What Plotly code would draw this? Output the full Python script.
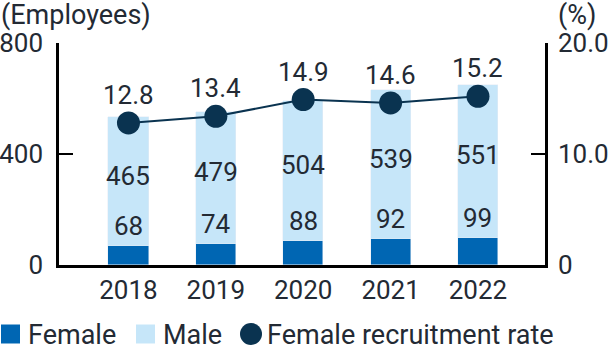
import plotly.graph_objects as go

# Headcount by year (employees) and female recruitment rate (%)
years = ["2018", "2019", "2020", "2021", "2022"]
female = [68, 74, 88, 92, 99]
male = [465, 479, 504, 539, 551]
female_rate = [12.8, 13.4, 14.9, 14.6, 15.2]

left_ticks = [0, 400, 800]
right_ticks = [0, 10, 20]
right_tick_text = ["0", "10.0", "20.0"]

# Style
FONT = "Roboto"
FS = 26
FS_WORDS = 27
TEXT = "#232a34"
C_FEMALE = "#0066b3"
C_MALE = "#c6e6f9"
C_RATE = "#0a3350"

W, H = 610, 346
ML, MR, MT, MB = 59, 65, 43, 81
PW, PH = W - ML - MR, H - MT - MB


def px_x(px):
    return (px - ML) / PW


def px_y(py):
    return (H - MB - py) / PH


fig = go.Figure()

fig.add_trace(go.Bar(x=years, y=female, name="Female", marker_color=C_FEMALE,
                     width=0.46, showlegend=False))
fig.add_trace(go.Bar(x=years, y=male, name="Male", marker_color=C_MALE,
                     width=0.46, showlegend=False))
fig.add_trace(go.Scatter(x=years, y=female_rate, name="Female recruitment rate",
                         yaxis="y2", mode="lines+markers",
                         line=dict(color=C_RATE, width=2),
                         marker=dict(color=C_RATE, size=23),
                         cliponaxis=False, showlegend=False))

# Value labels; category positions are given by index on the category axis
annotations = []
for i, (f, m, r) in enumerate(zip(female, male, female_rate)):
    annotations.append(dict(x=i, y=f, xref="x", yref="y", text=str(f),
                            showarrow=False, yanchor="middle", yshift=20))
    annotations.append(dict(x=i, y=f + m / 2, xref="x", yref="y", text=str(m),
                            showarrow=False, yanchor="middle", yshift=6))
    annotations.append(dict(x=i, y=r, xref="x", yref="y2", text=f"{r:.1f}",
                            showarrow=False, yanchor="middle", yshift=28))

# Axis unit captions
annotations.append(dict(x=px_x(-1), y=px_y(15), xref="paper", yref="paper",
                        text="(Employees)", showarrow=False, font=dict(size=FS_WORDS),
                        xanchor="left", yanchor="middle"))
annotations.append(dict(x=px_x(556), y=px_y(15), xref="paper", yref="paper",
                        text="(%)", showarrow=False, font=dict(size=FS_WORDS),
                        xanchor="left", yanchor="middle"))

# Legend drawn along the bottom edge
shapes = []
legend_y = 335
legend_items = [
    ("Female", "rect", C_FEMALE, 1, 26),
    ("Male", "rect", C_MALE, 136, 161),
    ("Female recruitment rate", "circle", C_RATE, 240, 265),
]
for label, kind, color, sx, tx in legend_items:
    size = 19 if kind == "rect" else 22
    shapes.append(dict(type=kind, xref="paper", yref="paper",
                       x0=px_x(sx), x1=px_x(sx + size),
                       y0=px_y(334 - size / 2), y1=px_y(334 + size / 2),
                       fillcolor=color, line=dict(width=0)))
    annotations.append(dict(x=px_x(tx), y=px_y(legend_y), xref="paper", yref="paper",
                            text=label, showarrow=False, font=dict(size=FS_WORDS),
                            xanchor="left", yanchor="middle"))

axis_line = dict(showgrid=False, showline=True, linecolor="black", linewidth=2.5,
                 zeroline=False, automargin=False)

fig.update_layout(
    width=W, height=H,
    margin=dict(l=ML, r=MR, t=MT, b=MB, pad=0, autoexpand=False),
    barmode="stack",
    bargap=0,
    plot_bgcolor="white", paper_bgcolor="white",
    font=dict(family=FONT, size=FS, color=TEXT),
    showlegend=False,
    annotations=annotations,
    shapes=shapes,
    xaxis=dict(type="category", range=[-0.795, 4.767], ticks="",
               ticklabelstandoff=0, **axis_line),
    yaxis=dict(range=[0, 800], tickvals=left_ticks,
               ticks="inside", ticklen=14, tickwidth=2, tickcolor="black",
               ticklabelstandoff=8, **axis_line),
    yaxis2=dict(range=[0, 20], tickvals=right_ticks, ticktext=right_tick_text,
                overlaying="y", side="right",
                ticks="inside", ticklen=14, tickwidth=2, tickcolor="black",
                ticklabelstandoff=5, **axis_line),
)

fig.write_html("out.html")
